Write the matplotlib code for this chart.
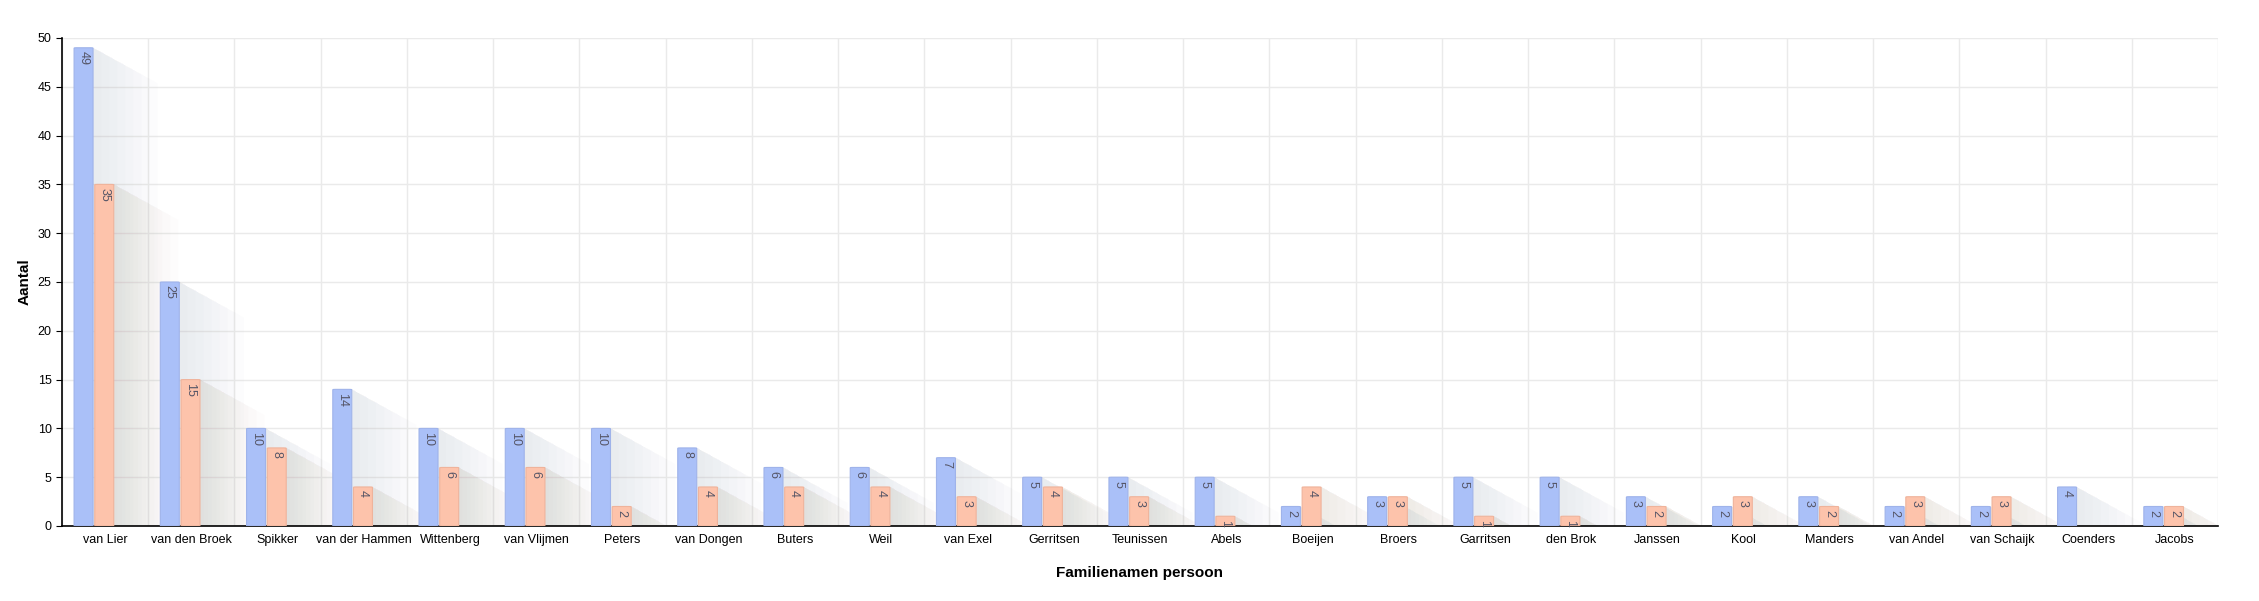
import matplotlib
matplotlib.use("Agg")
import matplotlib.pyplot as plt
from matplotlib.patches import FancyBboxPatch, Polygon
import numpy as np

categories = ["van Lier","van den Broek","Spikker","van der Hammen","Wittenberg","van Vlijmen","Peters","van Dongen","Buters","Weil","van Exel","Gerritsen","Teunissen","Abels","Boeijen","Broers","Garritsen","den Brok","Janssen","Kool","Manders","van Andel","van Schaijk","Coenders","Jacobs"]
series_a = [49,25,10,14,10,10,10,8,6,6,7,5,5,5,2,3,5,5,3,2,3,2,2,4,2]
series_b = [35,15,8,4,6,6,2,4,4,4,3,4,3,1,4,3,1,1,2,3,2,3,3,0,2]

plt.rcParams["font.family"] = "Liberation Sans"
fig = plt.figure(figsize=(22.59, 6.01), dpi=100)
ax = fig.add_axes([62/2259, 1-526/601, (2218-62)/2259, (526-38)/601])
n = len(categories)
ax.set_xlim(0, n)
ax.set_ylim(0, 50)
w = 0.22
cols = ["#aac0f8", "#fdc3ab"]
edges = ["#9fb3ea", "#efb39b"]
shadow = ["#8890b0", "#b09080"]
for i in range(n):
    for j, (vals, off) in enumerate([(series_a, 0.14), (series_b, 0.38)]):
        v = vals[i]
        if v <= 0:
            continue
        x0 = i + off
        for k in range(8):
            ext = 0.75 * (k + 1) / 8
            drop = ext * 86 * 0.55 / 9.76
            poly = Polygon([(x0 + w, v), (x0 + w + ext, v - drop), (x0 + w + ext, 0), (x0 + w, 0)],
                           closed=True, facecolor=shadow[j], alpha=0.02, edgecolor="none", zorder=1)
            ax.add_patch(poly)
        ax.add_patch(FancyBboxPatch((x0, 0), w, v, boxstyle="round,pad=0,rounding_size=0.03",
                                    facecolor=cols[j], edgecolor=edges[j], lw=0.8, zorder=3))
        ax.text(x0 + w / 2, v - 0.35, str(v), rotation=-90, ha="center", va="top",
                fontsize=9, color="#555566", zorder=4)
ax.set_xticks(np.arange(n) + 0.5)
ax.set_xticklabels(categories, fontsize=9)
ax.set_yticks(range(0, 51, 5))
ax.tick_params(axis="y", labelsize=9, length=4)
ax.tick_params(axis="x", length=0, pad=6)
ax.set_xticks(np.arange(n + 1), minor=True)
ax.tick_params(axis="x", which="minor", length=0)
ax.grid(True, axis="x", which="minor", color="#eaeaea", lw=1)
ax.grid(True, axis="y", which="major", color="#eaeaea", lw=1)
ax.set_axisbelow(True)
for s in ["top", "right"]:
    ax.spines[s].set_visible(False)
ax.spines["left"].set_linewidth(1.2)
ax.spines["bottom"].set_linewidth(1.2)
ax.set_xlabel("Familienamen persoon", fontsize=11, fontweight="bold", labelpad=14)
ax.set_ylabel("Aantal", fontsize=11, fontweight="bold", labelpad=4)
fig.savefig("out.png", dpi=100)
